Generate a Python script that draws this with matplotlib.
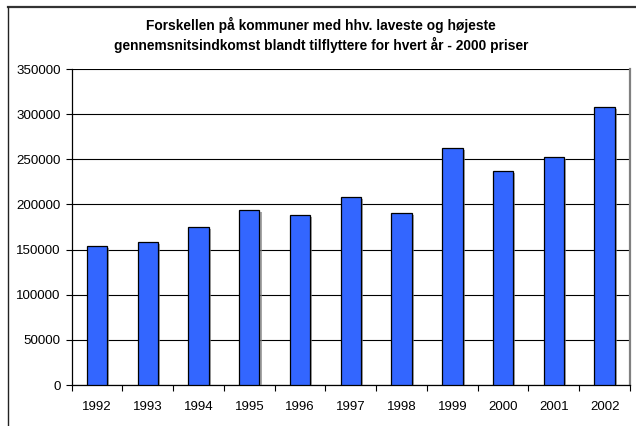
import matplotlib
matplotlib.use("Agg")
import matplotlib.pyplot as plt
from matplotlib.lines import Line2D
from matplotlib.ticker import FixedLocator, NullFormatter, FixedFormatter
import matplotlib.patheffects as pe

years = ["1992", "1993", "1994", "1995", "1996", "1997", "1998", "1999", "2000", "2001", "2002"]
values = [154400, 158800, 175400, 194200, 188700, 207800, 190200, 262600, 237200, 252200, 308000]
yticks = [0, 50000, 100000, 150000, 200000, 250000, 300000, 350000]
title = "Forskellen på kommuner med hhv. laveste og højeste\ngennemsnitsindkomst blandt tilflyttere for hvert år - 2000 priser"

plt.rcParams['font.family'] = ['Liberation Sans', 'DejaVu Sans']

W, H = 636, 426
fig = plt.figure(figsize=(W / 100, H / 100), dpi=100)
fig.patch.set_facecolor('white')

left, right, bottom, top = 71.7, 630, 385, 69
ax = fig.add_axes([left / W, 1 - bottom / H, (right - left) / W, (bottom - top) / H])

x = list(range(len(years)))
bars = ax.bar(x, values, width=0.4, color='#3366FF', edgecolor='black', linewidth=0.9, zorder=3)
for b in bars:
    b.set_path_effects([pe.SimplePatchShadow(offset=(1.5, -1.5), shadow_rgbFace='#808080', alpha=0.7), pe.Normal()])

ax.set_xlim(-0.5, len(years) - 0.5)
ax.set_ylim(0, 350000)

ax.set_yticks(yticks)
ax.set_yticklabels([str(v) for v in yticks])
ax.yaxis.grid(True, color='black', linewidth=0.8, zorder=0)
ax.set_axisbelow(True)

ax.xaxis.set_major_locator(FixedLocator([i - 0.5 for i in range(len(years) + 1)]))
ax.xaxis.set_major_formatter(NullFormatter())
ax.xaxis.set_minor_locator(FixedLocator(x))
ax.xaxis.set_minor_formatter(FixedFormatter(years))
ax.tick_params(axis='x', which='major', direction='out', length=4, width=0.8, color='black')
ax.tick_params(axis='x', which='minor', length=0, pad=11.5, labelsize=9.5)
ax.tick_params(axis='y', direction='out', length=4, width=0.8, pad=4, labelsize=9.6)

for s in ['left', 'bottom']:
    ax.spines[s].set_color('black')
    ax.spines[s].set_linewidth(0.9)
ax.spines['top'].set_visible(False)
ax.spines['right'].set_color('#808080')
ax.spines['right'].set_linewidth(1.6)

fig.text(321 / W, 1 - 34.5 / H, title, ha='center', va='center', fontsize=9.9,
         fontweight='bold', linespacing=1.3)

# outer chart frame (extends beyond the image at right and bottom)
fig.add_artist(Line2D([7.5 / W, 1.0], [1 - 6.8 / H, 1 - 6.8 / H], transform=fig.transFigure,
                      color='#333333', linewidth=1.6))
fig.add_artist(Line2D([7.5 / W, 7.5 / W], [0, 1 - 6.8 / H], transform=fig.transFigure,
                      color='#222222', linewidth=1.0))

fig.savefig('out.png', dpi=100)
